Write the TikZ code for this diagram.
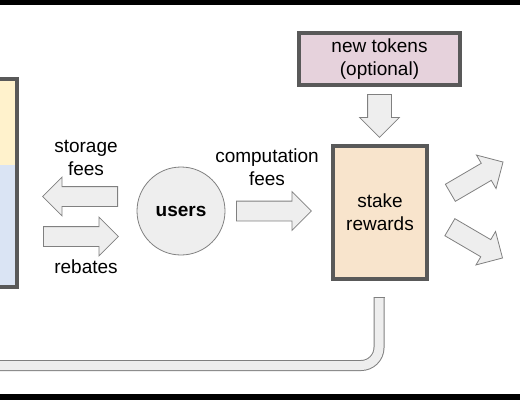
\documentclass[tikz,border=0pt]{standalone}
\usepackage{fontspec}
\setmainfont{Liberation Sans}
\usepackage{tikz}
\usetikzlibrary{shapes.arrows}

\definecolor{framegray}{HTML}{595959}
\definecolor{arrowgray}{HTML}{808080}
\definecolor{arrowfill}{HTML}{EEEEEE}
\definecolor{ledgeryellow}{HTML}{FFF2CC}
\definecolor{ledgerblue}{HTML}{DAE4F4}
\definecolor{stakepeach}{HTML}{F8E4CC}
\definecolor{tokenmauve}{HTML}{E6D2DC}

\begin{document}
\begin{tikzpicture}[
            x=1bp, y=-1bp,
            font=\fontsize{19bp}{23bp}\selectfont,
            box/.style={rectangle,draw=framegray,line width=4bp,inner sep=0pt},
            label text/.style={align=center,inner sep=0pt},
            block arrow/.style={single arrow,draw=arrowgray,fill=arrowfill,line width=0.8bp,
                inner xsep=0pt,inner ysep=9.5bp,minimum width=0pt,
                single arrow head extend=9.5bp,anchor=tail},
            pipe/.style={draw=arrowgray,line width=1bp,double=arrowfill,double distance=9bp,
                rounded corners=18bp},
            ]
            \useasboundingbox (0,0) rectangle (520,400);
            \fill[black] (0,0) rectangle (520,5);
            \fill[black] (0,394) rectangle (520,400);

            % boxes
            \node[box, fill=ledgeryellow, minimum width=27bp, minimum height=208bp,
                path picture={\fill[ledgerblue] (-30,-18) rectangle (30,130);}] (ledger) at (3.5,183) {};
            \node[circle, draw=arrowgray, fill=arrowfill, line width=0.8bp, minimum size=88bp,
                inner sep=0pt, font=\fontsize{19bp}{23bp}\selectfont\bfseries] (users) at (181,211) {users};
            \node[box, fill=stakepeach, minimum width=94bp, minimum height=133bp,
                label text] (stake) at (380,212.5) {stake\\rewards};
            \node[box, fill=tokenmauve, minimum width=161bp, minimum height=52bp,
                label text] (tokens) at (379.5,59) {new tokens\\(optional)};

            % block arrows
            \node[block arrow, rotate=180, minimum height=75bp] (storagearrow) at (118,196.5) {};
            \node[block arrow, minimum height=75bp] (rebatearrow) at (43,236.5) {};
            \node[block arrow, minimum height=75bp] (feearrow) at (236,211) {};
            \node[block arrow, rotate=-90, minimum height=43bp, inner ysep=11.5bp,
                single arrow head extend=8bp] (mintarrow) at (379.5,94) {};
            \node[block arrow, rotate=30.3, minimum height=61bp] (outarrowa) at (450,193) {};
            \node[block arrow, rotate=-30.3, minimum height=61bp] (outarrowb) at (449.5,227) {};

            % texts
            \node[label text] (storage) at (86,158) {storage\\fees};
            \node[label text] (rebates) at (86,267) {rebates};
            \node[label text] (computation) at (267,167) {computation\\fees};

            % return pipe
            \coordinate (pipetop) at (379,297);
            \coordinate (pipeend) at (-10,365.5);
            \draw[pipe] (pipetop) |- (pipeend);
            \draw[arrowgray, line width=1bp] ([xshift=-5.5bp]pipetop) -- ([xshift=5.5bp]pipetop);
        \end{tikzpicture}
\end{document}
